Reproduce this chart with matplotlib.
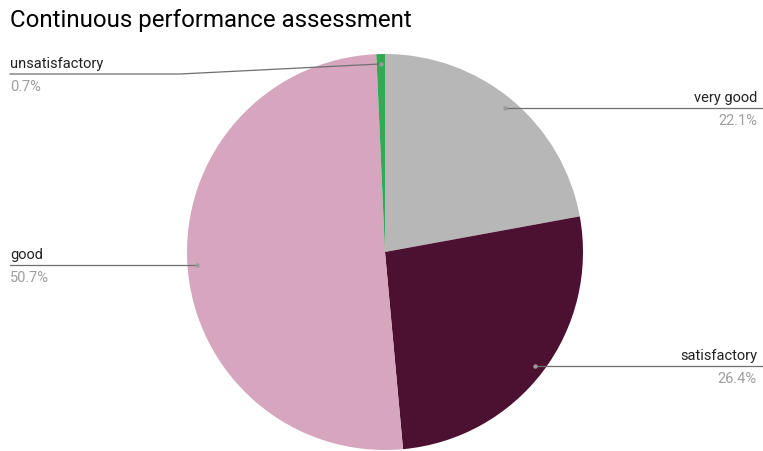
import matplotlib.pyplot as plt
import numpy as np

plt.rcParams["font.family"] = ["Roboto", "DejaVu Sans"]

## data
labels = ["very good", "satisfactory", "good", "unsatisfactory"]
shares = [22.1, 26.4, 50.7, 0.7]
colors = ["#b7b7b7", "#4c1130", "#d5a6bd", "#34a853"]

## layout (pixels, y measured from top)
W, H = 763, 451
cx, cy, R = 385, 252, 198
# label line y (None = follow anchor), text side
label_pos = {
    "very good": (None, "right"),
    "satisfactory": (None, "right"),
    "good": (None, "left"),
    "unsatisfactory": (74, "left"),
}

fig = plt.figure(figsize=(W / 100, H / 100), dpi=100)
ax = fig.add_axes([0, 0, 1, 1])

wedges, _ = ax.pie(shares, colors=colors, startangle=90, counterclock=False,
                   center=(cx, H - cy), radius=R,
                   wedgeprops=dict(linewidth=0))
ax.set_xlim(0, W)
ax.set_ylim(0, H)
ax.set_aspect("equal")
ax.axis("off")

line_c = "#6f6f6f"
fs_lab = 10.5
for w, lab, val in zip(wedges, labels, shares):
    ang = np.deg2rad((w.theta1 + w.theta2) / 2)
    px = cx + 0.95 * R * np.cos(ang)
    py = H - cy + 0.95 * R * np.sin(ang)
    ly, side = label_pos[lab]
    ly = py if ly is None else H - ly
    if side == "right":
        ax.plot([px, W], [ly, ly], color=line_c, lw=0.9, zorder=3)
        tx, ha = W - 6, "right"
    else:
        if abs(py - ly) < 3:
            ax.plot([10, px], [ly, ly], color=line_c, lw=0.9, zorder=3)
        else:
            ax.plot([10, 180, px], [ly, ly, py], color=line_c, lw=0.9, zorder=3)
        tx, ha = 10, "left"
    ax.scatter([px], [py], s=10, color="#9a9a9a", zorder=4, linewidths=0)
    ax.text(tx, ly + 10, lab, ha=ha, va="center", fontsize=fs_lab, color="#222222")
    ax.text(tx, ly - 13, f"{val}%", ha=ha, va="center", fontsize=fs_lab, color="#9e9e9e")

ax.text(10, H - 20, "Continuous performance assessment", ha="left", va="center",
        fontsize=17.3, color="#000000")

fig.savefig("out.png", dpi=100)
